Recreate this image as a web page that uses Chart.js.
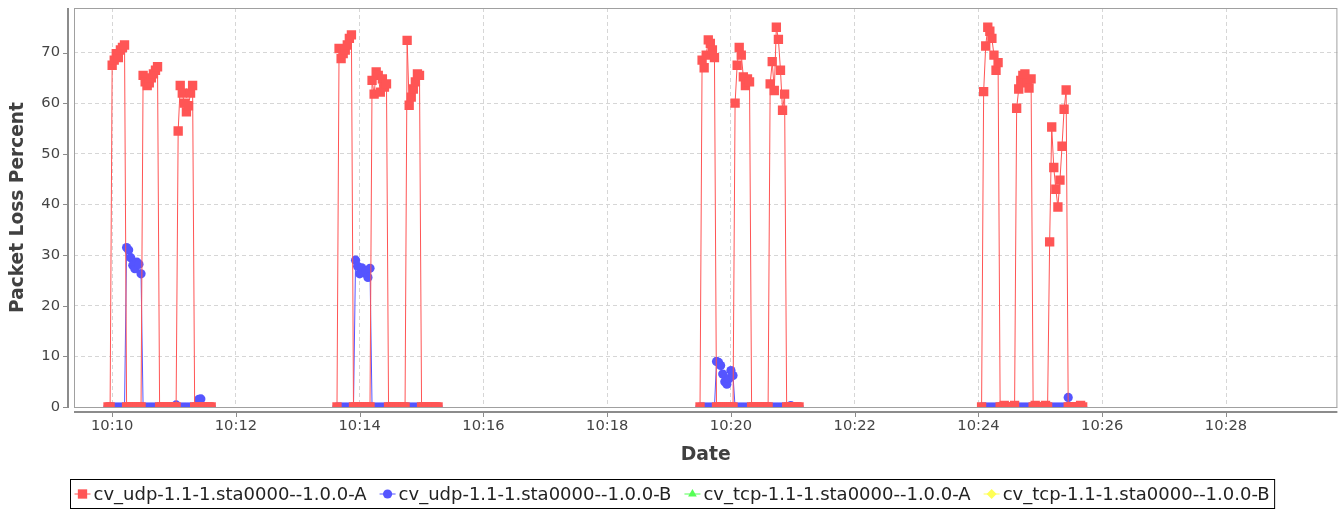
<!DOCTYPE html>
<html>
<head>
<meta charset="utf-8">
<script src="https://cdn.jsdelivr.net/npm/chart.js@4.4.1/dist/chart.umd.min.js"></script>
<style>
  html, body { margin: 0; padding: 0; background: #fff; }
</style>
</head>
<body>
<canvas id="lossChart" width="1344" height="510"></canvas>
<script>
// four test runs, one sample every 2 seconds from the run start
const runStarts = ['10:09:56', '10:13:38', '10:19:30', '10:24:03'];
const sampleStep = 2;

const seriesNames = [
  'cv_udp-1.1-1.sta0000--1.0.0-A',
  'cv_udp-1.1-1.sta0000--1.0.0-B',
  'cv_tcp-1.1-1.sta0000--1.0.0-A',
  'cv_tcp-1.1-1.sta0000--1.0.0-B'
];

// packet loss percent, one array per run
const udpA = [
  [0, 0, 67.5, 68.5, 69.8, 69, 70.5, 71, 71.5,
   0, 0, 0, 0, 0, 0, 0, 0,
   65.5, 64.2, 63.5, 64, 65, 65.8, 66.5, 67.2,
   0, 0, 0, 0, 0, 0, 0, 0, 0,
   54.5, 63.5, 62, 60, 58.3, 59.5, 62, 63.5,
   0, 0, 0, 0, 0, 0, 0, 0, 0],
  [0, 70.8, 68.8, 69.8, 70.5, 71.5, 72.8, 73.5,
   0, 0, 0, 0, 0, 0, 0, 0, 0,
   64.5, 61.8, 66.2, 65.5, 62.2, 64.8, 63.2, 63.8,
   0, 0, 0, 0, 0, 0, 0, 0, 0,
   72.4, 59.6, 61.2, 62.8, 64.2, 65.8, 65.5,
   0, 0, 0, 0, 0, 0, 0, 0, 0],
  [0, 68.5, 67, 69.5, 72.5, 71.8, 70.5, 69,
   0, 0, 0, 0, 0, 0, 0, 0, 0,
   60, 67.5, 71, 69.5, 65.2, 63.5, 64.8, 64.2,
   0, 0, 0, 0, 0, 0, 0, 0, 0,
   63.8, 68.2, 62.5, 75, 72.6, 66.5, 58.6, 61.8,
   0, 0, 0, 0, 0, 0, 0],
  [0, 62.3, 71.3, 75, 74.2, 72.8, 69.5, 66.5, 68,
   0, 0, 0.3, 0, 0, 0, 0, 0.3,
   59, 62.8, 64.5, 65.5, 65.8, 64, 63, 64.8,
   0, 0.3, 0, 0, 0, 0, 0.3, 0,
   32.6, 55.3, 47.3, 43, 39.5, 44.8, 51.5, 58.8, 62.6,
   0, 0, 0, 0, 0, 0, 0.3, 0]
];
const udpB = [
  [0, 0, 0, 0, 0, 0, 0, 0, 0,
   31.5, 31, 29.5, 28, 27.3, 28.6, 28.2, 26.3,
   0, 0, 0, 0, 0, 0, 0, 0, 0, 0, 0, 0, 0, 0, 0, 0,
   0.4,
   0, 0, 0, 0, 0, 0, 0, 0, 0, 0,
   1.5, 1.6,
   0, 0, 0, 0, 0],
  [0, 0, 0, 0, 0, 0, 0, 0, 0,
   29, 27.8, 26.3, 27.5, 26.5, 26.8, 25.6, 27.4,
   0, 0, 0, 0, 0, 0, 0, 0, 0, 0, 0, 0, 0, 0, 0, 0, 0,
   0, 0, 0, 0, 0, 0, 0, 0, 0, 0, 0, 0, 0, 0, 0, 0],
  [0, 0, 0, 0, 0, 0, 0, 0,
   9, 8.8, 8.2, 6.5, 5, 4.5, 5.6, 7.2, 6.2,
   0, 0, 0, 0, 0, 0, 0, 0, 0, 0, 0, 0, 0, 0,
   0, 0, 0, 0, 0, 0, 0, 0, 0, 0, 0, 0, 0,
   0.3,
   0, 0, 0, 0],
  [0, 0, 0, 0, 0, 0, 0, 0, 0, 0, 0, 0, 0, 0, 0, 0, 0, 0, 0, 0, 0,
   0, 0, 0, 0, 0, 0, 0, 0, 0, 0, 0, 0, 0, 0, 0, 0, 0, 0, 0, 0, 0,
   1.9,
   0, 0, 0, 0, 0, 0, 0]
];
// tcp endpoints report nothing in this view
const tcpA = [[], [], [], []];
const tcpB = [[], [], [], []];

const xTicks = ['10:10', '10:12', '10:14', '10:16', '10:18', '10:20', '10:22', '10:24', '10:26', '10:28'];
const yTicks = [0, 10, 20, 30, 40, 50, 60, 70];
const xRange = ['10:09:23', '10:29:48'];
const yMax = 78.8;

function toSec(t) {
  const p = t.split(':').map(Number);
  return p[0] * 3600 + p[1] * 60 + (p[2] || 0);
}
function hhmm(sec) {
  const h = Math.floor(sec / 3600), m = Math.round((sec % 3600) / 60);
  return h + ':' + String(m).padStart(2, '0');
}
function points(runs) {
  return runs.flatMap((vals, r) =>
    vals.map((v, i) => ({ x: toSec(runStarts[r]) + i * sampleStep, y: v })));
}

const FONT = '"DejaVu Sans", sans-serif';

function makeSet(i, values, color, style, radius) {
  return {
    label: seriesNames[i],
    data: points(values),
    borderColor: color,
    backgroundColor: color,
    borderWidth: 1,
    pointStyle: style,
    pointRadius: radius,
    pointBorderWidth: 0,
    pointBackgroundColor: color,
    spanGaps: 60,
    clip: 0
  };
}

// plot outline plus offset axis lines like the original renderer
const frame = {
  id: 'frame',
  afterDatasetsDraw(chart) {
    const { ctx, chartArea: a, scales } = chart;
    ctx.save();
    ctx.strokeStyle = '#a0a0a0';
    ctx.lineWidth = 1;
    ctx.strokeRect(a.left + 0.5, a.top + 0.5, a.right - a.left - 1, a.bottom - a.top);
    ctx.strokeStyle = '#8c8c8c';
    ctx.lineWidth = 2;
    const ax = a.left - 6, ay = a.bottom + 5;
    ctx.beginPath();
    ctx.moveTo(ax, a.top); ctx.lineTo(ax, a.bottom + 1);
    ctx.moveTo(a.left, ay); ctx.lineTo(a.right, ay);
    ctx.stroke();
    ctx.lineWidth = 1;
    ctx.beginPath();
    scales.y.ticks.forEach(t => {
      const py = Math.round(scales.y.getPixelForValue(t.value)) + 0.5;
      ctx.moveTo(ax - 5, py); ctx.lineTo(ax, py);
    });
    scales.x.ticks.forEach(t => {
      const px = Math.round(scales.x.getPixelForValue(t.value)) + 0.5;
      ctx.moveTo(px, ay); ctx.lineTo(px, ay + 5);
    });
    ctx.stroke();
    ctx.restore();
  }
};

// boxed legend with line + shape samples
const boxLegend = {
  id: 'boxLegend',
  afterDraw(chart) {
    const ctx = chart.ctx;
    ctx.save();
    ctx.font = '18px ' + FONT;
    const sets = chart.data.datasets;
    const widths = sets.map(ds => ctx.measureText(ds.label).width);
    const total = 4 + widths.reduce((s, w) => s + 19 + w, 0) + 13 * (sets.length - 1) + 5;
    const left = Math.round((chart.width - total) / 2) + 0.5;
    const top = 479.5, h = 29;
    ctx.fillStyle = '#fff';
    ctx.fillRect(left, top, total, h);
    ctx.strokeStyle = '#000';
    ctx.lineWidth = 1;
    ctx.strokeRect(left, top, total, h);
    const cy = top + h / 2;
    let x = left + 4;
    sets.forEach((ds, i) => {
      ctx.strokeStyle = ds.borderColor;
      ctx.beginPath();
      ctx.moveTo(x, cy); ctx.lineTo(x + 16, cy);
      ctx.stroke();
      ctx.fillStyle = ds.pointBackgroundColor;
      Chart.helpers.drawPoint(ctx, { pointStyle: ds.pointStyle, radius: ds.pointRadius, rotation: 0, borderWidth: 0 }, x + 8, cy);
      ctx.fillStyle = '#222';
      ctx.textBaseline = 'middle';
      ctx.fillText(ds.label, x + 19, cy + 1);
      x += 19 + widths[i] + 13;
    });
    ctx.restore();
  }
};

new Chart(document.getElementById('lossChart'), {
  type: 'line',
  data: {
    datasets: [
      makeSet(0, udpA, '#ff5555', 'rect', 6.6),
      makeSet(1, udpB, '#5555ff', 'circle', 4.6),
      makeSet(2, tcpA, '#55ff55', 'triangle', 5),
      makeSet(3, tcpB, '#ffff55', 'rectRot', 5)
    ]
  },
  options: {
    responsive: false,
    animation: false,
    events: [],
    layout: { padding: { left: 0, right: 4, top: 8, bottom: 40 } },
    plugins: { legend: { display: false }, tooltip: { enabled: false } },
    scales: {
      x: {
        type: 'linear',
        min: toSec(xRange[0]),
        max: toSec(xRange[1]),
        afterBuildTicks: s => { s.ticks = xTicks.map(t => ({ value: toSec(t) })); },
        afterFit: s => { s.height = 63; s.paddingLeft = 0; s.paddingRight = 0; },
        ticks: { callback: v => hhmm(v), color: '#444', font: { family: FONT, size: 14.7 }, padding: 10, maxRotation: 0, autoSkip: false },
        grid: { color: '#d6d6d6', lineWidth: 1, drawTicks: false },
        border: { display: false, dash: [4, 3] },
        title: { display: true, text: 'Date', color: '#404040', font: { family: FONT, size: 18.8, weight: 'bold' }, padding: { top: 0, bottom: 4 } }
      },
      y: {
        min: 0,
        max: yMax,
        afterBuildTicks: s => { s.ticks = yTicks.map(v => ({ value: v })); },
        afterFit: s => { s.width = 74; s.paddingTop = 0; s.paddingBottom = 0; },
        ticks: { color: '#444', font: { family: FONT, size: 14.7 }, padding: 14 },
        grid: { color: '#d6d6d6', lineWidth: 1, drawTicks: false },
        border: { display: false, dash: [4, 3] },
        title: { display: true, text: 'Packet Loss Percent', color: '#404040', font: { family: FONT, size: 18.6, weight: 'bold' }, padding: { top: 7, bottom: 0 } }
      }
    }
  },
  plugins: [frame, boxLegend]
});
</script>
</body>
</html>
